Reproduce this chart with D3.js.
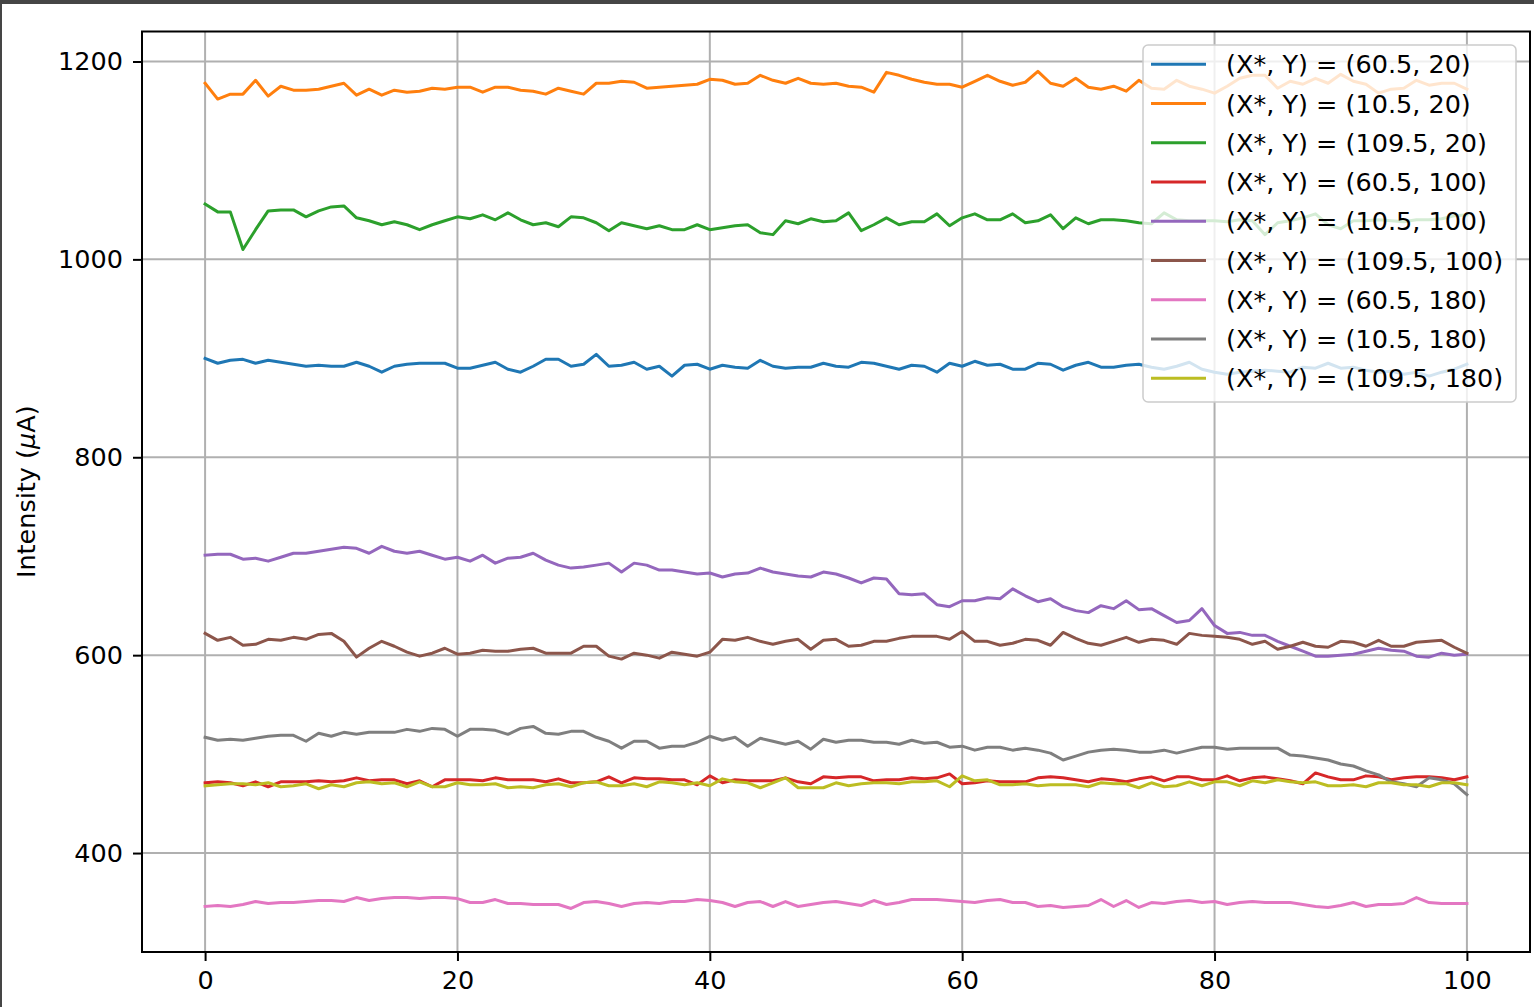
<!DOCTYPE html>
<html>
<head>
<meta charset="utf-8">
<script src="https://cdn.jsdelivr.net/npm/d3@7"></script>
<style>
  body { margin: 0; background: #fff; }
  svg { display: block; font-family: "DejaVu Sans", sans-serif; }
</style>
</head>
<body>
<div id="chart"></div>
<script>
// x positions (sample index) and tick values
const steps = d3.range(0, 101)
const xTicks = [0, 20, 40, 60, 80, 100]
const yTicks = [400, 600, 800, 1000, 1200]

const labels = [
  '(X*, Y) = (60.5, 20)', '(X*, Y) = (10.5, 20)', '(X*, Y) = (109.5, 20)',
  '(X*, Y) = (60.5, 100)', '(X*, Y) = (10.5, 100)', '(X*, Y) = (109.5, 100)',
  '(X*, Y) = (60.5, 180)', '(X*, Y) = (10.5, 180)', '(X*, Y) = (109.5, 180)'
]
const colors = ['#1f77b4', '#ff7f0e', '#2ca02c', '#d62728', '#9467bd', '#8c564b', '#e377c2', '#7f7f7f', '#bcbd22']

// values, one per step
const s60_20 = [900,895,898,899,895,898,896,894,892,893,892,892,896,892,886,892,894,895,895,895,890,890,893,896,889,886,
  892,899,899,892,894,904,892,893,896,889,892,882,893,894,889,893,891,890,898,892,890,891,891,895,892,
  891,896,895,892,889,893,892,886,895,892,897,893,894,889,889,895,894,888,893,896,891,891,893,894,891,
  889,892,896,889,886,884,886,887,888,887,886,891,890,895,890,891,888,886,887,884,886,882,886,889,894]
const s10_20 = [1178,1162,1167,1167,1181,1165,1175,1171,1171,1172,1175,1178,1166,1172,1166,1171,1169,1170,1173,1172,1174,1174,1169,1174,1174,1171,
  1170,1167,1173,1170,1167,1178,1178,1180,1179,1173,1174,1175,1176,1177,1182,1181,1177,1178,1186,1181,1178,1183,1178,1177,1178,
  1175,1174,1169,1189,1186,1182,1179,1177,1177,1174,1180,1186,1180,1176,1179,1190,1178,1175,1183,1174,1172,1175,1170,1181,1173,
  1172,1181,1175,1172,1168,1175,1183,1186,1186,1173,1180,1177,1183,1178,1187,1180,1177,1168,1172,1173,1181,1176,1178,1178,1172]
const s109_20 = [1056,1048,1048,1010,1030,1049,1050,1050,1043,1049,1053,1054,1042,1039,1035,1038,1035,1030,1035,1039,1043,1041,1045,1040,1047,1040,
  1035,1037,1033,1043,1042,1037,1029,1037,1034,1031,1034,1030,1030,1035,1030,1032,1034,1035,1027,1025,1039,1036,1041,1038,1039,
  1047,1029,1035,1042,1035,1038,1038,1046,1034,1042,1046,1040,1040,1046,1037,1039,1045,1031,1042,1036,1040,1040,1039,1037,1036,
  1047,1040,1039,1039,1039,1038,1040,1039,1025,1037,1039,1042,1046,1035,1031,1039,1039,1040,1039,1038,1040,1040,1041,1044,1045]
const s60_100 = [471,472,471,468,472,467,472,472,472,473,472,473,476,473,474,474,470,473,467,474,474,474,473,476,474,474,
  474,472,475,471,471,472,477,471,476,475,475,474,474,469,478,471,474,473,473,473,476,472,470,477,476,
  477,477,473,474,474,476,475,476,480,470,471,473,472,472,472,476,477,476,474,472,475,474,472,475,477,
  473,477,477,474,474,478,473,476,477,475,473,470,481,477,474,474,478,477,474,476,477,477,476,474,477]
const s10_100 = [701,702,702,697,698,695,699,703,703,705,707,709,708,703,710,705,703,705,701,697,699,695,701,693,698,699,
  703,696,691,688,689,691,693,684,693,691,686,686,684,682,683,679,682,683,688,684,682,680,679,684,682,
  678,673,678,677,662,661,662,651,649,655,655,658,657,667,660,654,657,649,645,643,650,647,655,646,647,
  640,633,635,647,630,622,623,620,620,614,609,604,599,599,600,601,604,607,605,604,599,598,602,600,601]
const s109_100 = [622,615,618,610,611,616,615,618,616,621,622,614,598,607,614,609,603,599,602,607,601,602,605,604,604,606,
  607,602,602,602,609,609,599,596,602,600,597,603,601,599,603,616,615,618,614,611,614,616,606,615,616,
  609,610,614,614,617,619,619,619,616,624,614,614,610,612,616,615,610,623,617,612,610,614,618,613,616,
  615,611,622,620,619,618,616,611,614,606,609,613,609,608,614,613,609,615,609,609,613,614,615,608,602]
const s60_180 = [346,347,346,348,351,349,350,350,351,352,352,351,355,352,354,355,355,354,355,355,354,350,350,353,349,349,
  348,348,348,344,350,351,349,346,349,350,349,351,351,353,352,350,346,350,351,346,351,346,348,350,351,
  349,347,352,348,350,353,353,353,352,351,350,352,353,350,350,346,347,345,346,347,353,346,352,345,350,
  349,351,352,350,351,348,350,351,350,350,350,348,346,345,347,350,346,348,348,349,355,350,349,349,349]
const s10_180 = [517,514,515,514,516,518,519,519,513,521,518,522,520,522,522,522,525,523,526,525,518,525,525,524,520,526,
  528,521,520,523,523,517,513,506,513,513,506,508,508,512,518,514,517,508,516,513,510,513,505,515,512,
  514,514,512,512,510,514,511,512,507,508,504,507,507,504,506,504,501,494,498,502,504,505,504,502,502,
  504,501,504,507,507,505,506,506,506,506,499,498,496,494,490,488,483,479,472,470,467,476,474,470,459]
const s109_180 = [468,469,470,470,469,471,467,468,470,465,469,467,471,472,470,471,467,472,467,467,471,469,469,470,466,467,
  466,469,470,467,471,472,468,468,470,467,472,471,469,471,468,475,472,471,466,471,476,466,466,466,471,
  468,470,471,471,470,472,472,473,467,478,473,474,469,469,470,468,469,469,469,467,471,470,470,466,471,
  467,468,472,468,472,472,468,473,471,474,472,471,472,468,468,469,467,471,471,469,469,467,471,471,469]

const seriesValues = [s60_20, s10_20, s109_20, s60_100, s10_100, s109_100, s60_180, s10_180, s109_180]

const width = 1534, height = 1007
const margin = { top: 31.5, left: 142, right: 4, bottom: 55 }

const svg = d3.select('#chart').append('svg')
  .attr('width', width)
  .attr('height', height)

// dark edge of the screenshot
svg.append('rect').attr('x', 0).attr('y', 0).attr('width', width).attr('height', 4).attr('fill', '#454545')
svg.append('rect').attr('x', 0).attr('y', 0).attr('width', 2).attr('height', height).attr('fill', '#454545')

const xScale = d3.scaleLinear().domain([-5, 105]).range([margin.left, width - margin.right])
const yScale = d3.scaleLinear().domain([300, 1230.3]).range([height - margin.bottom, margin.top])

// grid
svg.append('g').selectAll('line').data(xTicks).join('line')
  .attr('x1', d => xScale(d)).attr('x2', d => xScale(d))
  .attr('y1', margin.top).attr('y2', height - margin.bottom)
  .attr('stroke', '#b0b0b0').attr('stroke-width', 2)
svg.append('g').selectAll('line').data(yTicks).join('line')
  .attr('x1', margin.left).attr('x2', width - margin.right)
  .attr('y1', d => yScale(d)).attr('y2', d => yScale(d))
  .attr('stroke', '#b0b0b0').attr('stroke-width', 2)

const line = d3.line()
  .x((d, i) => xScale(steps[i]))
  .y(d => yScale(d))

svg.append('g').selectAll('path').data(seriesValues).join('path')
  .attr('d', line)
  .attr('fill', 'none')
  .attr('stroke', (d, i) => colors[i])
  .attr('stroke-width', 3)
  .attr('stroke-linejoin', 'round')
  .attr('stroke-linecap', 'square')

// axes
const xAxis = svg.append('g')
  .attr('transform', `translate(0, ${height - margin.bottom})`)
  .call(d3.axisBottom(xScale).tickValues(xTicks).tickFormat(d3.format('d')).tickSize(9).tickPadding(10))
const yAxis = svg.append('g')
  .attr('transform', `translate(${margin.left}, 0)`)
  .call(d3.axisLeft(yScale).tickValues(yTicks).tickFormat(d3.format('d')).tickSize(9).tickPadding(10))

for (const ax of [xAxis, yAxis]) {
  ax.select('.domain').remove()
  ax.selectAll('.tick line').attr('stroke', '#000').attr('stroke-width', 2)
  ax.selectAll('.tick text')
    .attr('fill', '#000')
    .style('font-family', '"DejaVu Sans", sans-serif')
    .style('font-size', '25.5px')
}

// frame
svg.append('rect')
  .attr('x', margin.left).attr('y', margin.top)
  .attr('width', width - margin.right - margin.left)
  .attr('height', height - margin.bottom - margin.top)
  .attr('fill', 'none').attr('stroke', '#000').attr('stroke-width', 2)

// y label
const ylab = svg.append('text')
  .attr('transform', `translate(35, ${(margin.top + height - margin.bottom) / 2}) rotate(-90)`)
  .attr('text-anchor', 'middle')
  .style('font-size', '25.5px')
  .attr('fill', '#000')
ylab.append('tspan').text('Intensity (')
ylab.append('tspan').style('font-style', 'italic').text('\u03bc')
ylab.append('tspan').text('A)')

// legend
const legend = svg.append('g')
legend.append('rect')
  .attr('x', 1143).attr('y', 45).attr('width', 373).attr('height', 357)
  .attr('rx', 5)
  .attr('fill', '#fff').attr('fill-opacity', 0.8)
  .attr('stroke', '#cccccc').attr('stroke-width', 1.5)

const rows = legend.selectAll('g.row').data(labels).join('g')
  .attr('class', 'row')
  .attr('transform', (d, i) => `translate(0, ${64.3 + i * 39.25})`)
rows.append('line')
  .attr('x1', 1151).attr('x2', 1206)
  .attr('stroke', (d, i) => colors[i]).attr('stroke-width', 3)
rows.append('text')
  .attr('x', 1226).attr('dy', '0.36em')
  .style('font-size', '25.5px')
  .attr('fill', '#000')
  .text(d => d)
</script>
</body>
</html>
